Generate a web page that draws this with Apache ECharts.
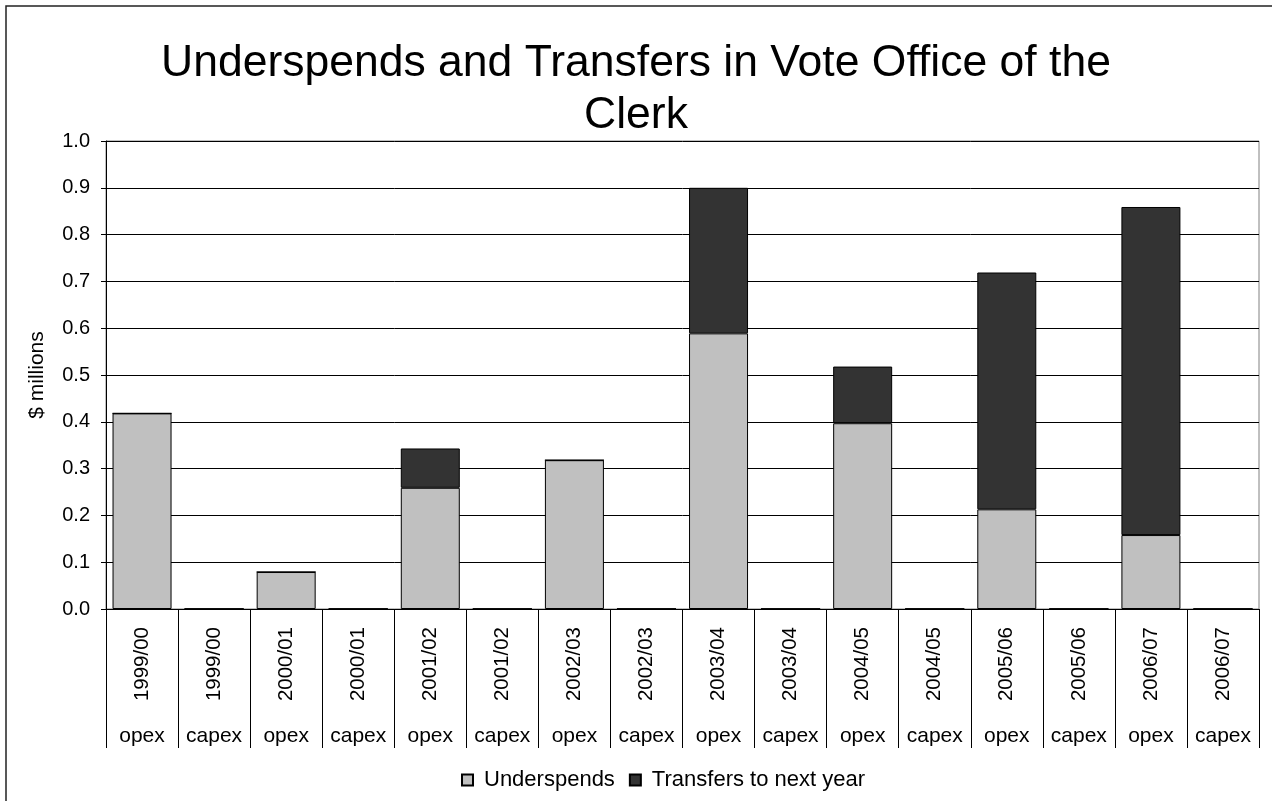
<!DOCTYPE html>
<html>
<head>
<meta charset="utf-8">
<script src="https://cdn.jsdelivr.net/npm/echarts@6/dist/echarts.min.js"></script>
<style>
  html, body { margin: 0; padding: 0; background: #fff; }
  #chart { width: 1272px; height: 801px; }
</style>
</head>
<body>
<div id="chart"></div>
<script>
// categories (two rows on the x axis)
const years = ['1999/00', '1999/00', '2000/01', '2000/01', '2001/02', '2001/02', '2002/03', '2002/03',
  '2003/04', '2003/04', '2004/05', '2004/05', '2005/06', '2005/06', '2006/07', '2006/07']
const kinds = ['opex', 'capex', 'opex', 'capex', 'opex', 'capex', 'opex', 'capex',
  'opex', 'capex', 'opex', 'capex', 'opex', 'capex', 'opex', 'capex']

// $ millions
const underspends = [0.418, 0, 0.079, 0, 0.259, 0, 0.318, 0, 0.589, 0, 0.397, 0, 0.213, 0, 0.158, 0]
const transfers = [0, 0, 0, 0, 0.084, 0, 0, 0, 0.311, 0, 0.121, 0, 0.506, 0, 0.701, 0]

const font = "'Liberation Sans', Arial, sans-serif"

const chart = echarts.init(document.getElementById('chart'))

const option = {
  animation: false,
  backgroundColor: '#fff',
  textStyle: { fontFamily: font, color: '#000' },
  title: {
    text: 'Underspends and Transfers in Vote Office of the\nClerk',
    left: 'center',
    top: 33,
    textStyle: { fontFamily: font, fontSize: 44.5, fontWeight: 'normal', color: '#000', lineHeight: 52 }
  },
  // outer chart frame
  graphic: [{
    type: 'rect',
    shape: { x: 6, y: 6, width: 1300, height: 820 },
    style: { fill: 'none', stroke: '#222', lineWidth: 1.5 },
    silent: true
  }],
  legend: {
    bottom: 5,
    left: 456,
    itemWidth: 11,
    itemHeight: 11,
    itemGap: 14,
    icon: 'rect',
    textStyle: { fontFamily: font, fontSize: 22, color: '#000', padding: [0, 0, 0, 6] },
    data: ['Underspends', 'Transfers to next year']
  },
  grid: {
    left: 106,
    right: 13,
    top: 141,
    bottom: 192,
    show: true,
    borderColor: '#808080',
    borderWidth: 1
  },
  xAxis: [
    {
      type: 'category',
      data: years,
      axisLine: { lineStyle: { color: '#000', width: 1 } },
      axisTick: { show: true, interval: 0, length: 139, lineStyle: { color: '#000', width: 1 } },
      axisLabel: { interval: 0, rotate: 90, margin: 18, fontSize: 20.5, color: '#000', fontFamily: font },
      splitLine: { show: false }
    },
    {
      type: 'category',
      data: kinds,
      position: 'bottom',
      offset: 110,
      axisLine: { show: false },
      axisTick: { show: false },
      axisLabel: { interval: 0, margin: 7, fontSize: 21, color: '#000', fontFamily: font },
      splitLine: { show: false }
    }
  ],
  yAxis: {
    type: 'value',
    min: 0,
    max: 1,
    interval: 0.1,
    name: '$ millions',
    nameLocation: 'middle',
    nameRotate: 90,
    nameGap: 58,
    nameTextStyle: { fontSize: 21, color: '#000', fontFamily: font },
    axisLine: { show: true, lineStyle: { color: '#000', width: 1 } },
    axisTick: { show: true, length: 5, lineStyle: { color: '#000' } },
    axisLabel: {
      margin: 16,
      fontSize: 20,
      color: '#000',
      fontFamily: font,
      formatter: (v) => v.toFixed(1)
    },
    splitLine: { show: true, lineStyle: { color: '#000', width: 1 } }
  },
  series: [
    {
      name: 'Underspends',
      type: 'bar',
      stack: 'total',
      xAxisIndex: 0,
      barWidth: 59,
      data: underspends,
      itemStyle: { color: '#c0c0c0', borderColor: '#000', borderWidth: 1 }
    },
    {
      name: 'Transfers to next year',
      type: 'bar',
      stack: 'total',
      xAxisIndex: 0,
      barWidth: 59,
      data: transfers,
      itemStyle: { color: '#333333', borderColor: '#000', borderWidth: 1 }
    }
  ]
}

chart.setOption(option)

window.addEventListener('resize', () => chart.resize())
</script>
</body>
</html>
